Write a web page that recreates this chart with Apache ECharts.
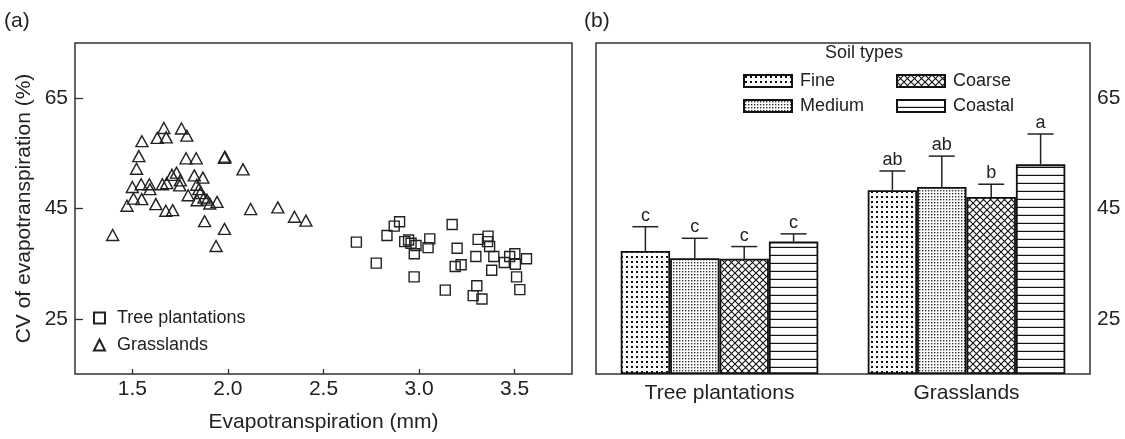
<!DOCTYPE html>
<html>
<head>
<meta charset="utf-8">
<script src="https://cdn.jsdelivr.net/npm/echarts@6/dist/echarts.min.js"></script>
<style>
  html, body { margin: 0; padding: 0; background: #fff; }
  #chart { width: 1125px; height: 439px; }
</style>
</head>
<body>
<div id="chart"></div>
<script>
// ---- data ----
// panel (a): [evapotranspiration mm, CV %]
const treePlantations = [
  [2.672, 38.9], [2.776, 35.1], [2.832, 40.1], [2.870, 41.8], [2.898, 42.6],
  [2.925, 39.0], [2.945, 39.3], [2.958, 38.7], [2.975, 36.8], [2.984, 38.3],
  [2.974, 32.6], [3.047, 37.9], [3.056, 39.5], [3.137, 30.2], [3.173, 42.1],
  [3.199, 37.8], [3.189, 34.5], [3.220, 34.8], [3.297, 36.3], [3.302, 31.0],
  [3.283, 29.2], [3.329, 28.6], [3.309, 39.4], [3.361, 40.0], [3.358, 39.0],
  [3.369, 38.1], [3.380, 33.8], [3.391, 36.3], [3.446, 35.2], [3.474, 36.3],
  [3.501, 36.8], [3.504, 34.9], [3.510, 32.6], [3.527, 30.3], [3.562, 35.9]
];
const grasslands = [
  [1.397, 40.2], [1.472, 45.5], [1.500, 48.9], [1.506, 46.8], [1.522, 52.2],
  [1.534, 54.5], [1.549, 46.7], [1.550, 57.2], [1.546, 49.4], [1.589, 49.4],
  [1.592, 48.5], [1.623, 45.8], [1.630, 57.8], [1.657, 49.4], [1.665, 59.6],
  [1.677, 57.9], [1.680, 49.6], [1.675, 44.6], [1.711, 44.7], [1.707, 51.1],
  [1.731, 51.5], [1.748, 49.2], [1.751, 50.1], [1.757, 59.5], [1.785, 58.2],
  [1.781, 54.1], [1.834, 54.1], [1.824, 51.0], [1.792, 47.4], [1.837, 49.3],
  [1.839, 46.5], [1.848, 48.5], [1.869, 50.6], [1.855, 47.8], [1.875, 47.0],
  [1.890, 46.6], [1.905, 45.9], [1.943, 46.2], [1.878, 42.7], [1.938, 38.2],
  [1.982, 54.2], [1.984, 54.4], [1.982, 41.3], [2.079, 52.1], [2.119, 44.9],
  [2.261, 45.2], [2.348, 43.5], [2.408, 42.8]
];
const xTicks = [1.5, 2.0, 2.5, 3.0, 3.5];
const yTicks = [25, 45, 65];

// panel (b): mean CV and top of error bar, per soil type, [Tree plantations, Grasslands]
const landUse = ['Tree plantations', 'Grasslands'];
const soilTypes = ['Fine', 'Medium', 'Coarse', 'Coastal'];
const fineMean = [37.3, 48.3];
const mediumMean = [36.0, 48.9];
const coarseMean = [35.9, 47.1];
const coastalMean = [39.0, 53.0];
const fineUpper = [41.7, 51.8];
const mediumUpper = [39.6, 54.5];
const coarseUpper = [38.1, 49.4];
const coastalUpper = [40.4, 58.5];
const fineLetters = ['c', 'ab'];
const mediumLetters = ['c', 'ab'];
const coarseLetters = ['c', 'b'];
const coastalLetters = ['c', 'a'];

const FONT = "'Liberation Sans', Arial, Helvetica, sans-serif";
const INK = '#222';

// fill patterns for the soil types
function tile(w, h, draw) {
  const c = document.createElement('canvas');
  c.width = w; c.height = h;
  const ctx = c.getContext('2d');
  ctx.fillStyle = '#fff';
  ctx.fillRect(0, 0, w, h);
  draw(ctx);
  return { image: c, repeat: 'repeat' };
}
const patterns = {
  Fine: tile(5, 5, ctx => { ctx.fillStyle = '#111'; ctx.fillRect(1, 1, 2, 2); }),
  Medium: tile(3, 3, ctx => { ctx.fillStyle = '#333'; ctx.fillRect(1, 1, 1.4, 1.4); }),
  Coarse: tile(7, 7, ctx => {
    ctx.strokeStyle = '#111'; ctx.lineWidth = 1.1;
    ctx.beginPath();
    ctx.moveTo(-1, -1); ctx.lineTo(8, 8);
    ctx.moveTo(8, -1); ctx.lineTo(-1, 8);
    ctx.stroke();
  }),
  Coastal: tile(8, 8, ctx => { ctx.fillStyle = '#111'; ctx.fillRect(0, 6.8, 8, 1.4); })
};

const means = [fineMean, mediumMean, coarseMean, coastalMean];
const uppers = [fineUpper, mediumUpper, coarseUpper, coastalUpper];
const letters = [fineLetters, mediumLetters, coarseLetters, coastalLetters];

const errData = [];
const errLetters = [];
soilTypes.forEach((s, k) => {
  landUse.forEach((c, j) => {
    errData.push([j, k, means[k][j], uppers[k][j]]);
    errLetters.push(letters[k][j]);
  });
});

const chart = echarts.init(document.getElementById('chart'), null, { renderer: 'canvas' });

const axisText = { color: INK, fontSize: 21, fontFamily: FONT };

const option = {
  animation: false,
  backgroundColor: '#fff',
  textStyle: { fontFamily: FONT, color: INK },
  grid: [
    { left: 75, right: 553, top: 43, bottom: 65, show: true, borderColor: '#333', borderWidth: 1.5 },
    { left: 596, right: 35, top: 43, bottom: 65, show: true, borderColor: '#333', borderWidth: 1.5 }
  ],
  graphic: [
    { type: 'text', left: 4, top: 11, style: { text: '(a)', font: '21px ' + FONT, fill: INK } },
    { type: 'text', left: 584, top: 11, style: { text: '(b)', font: '21px ' + FONT, fill: INK } },
    { type: 'text', x: 864, y: 53, style: { text: 'Soil types', font: '18px ' + FONT, fill: INK, align: 'center', verticalAlign: 'middle' } }
  ],
  legend: [
    {
      data: ['Tree plantations', 'Grasslands'],
      orient: 'vertical', left: 88, top: 304, itemGap: 9,
      itemWidth: 11, itemHeight: 11,
      textStyle: { fontSize: 18, color: INK, fontFamily: FONT, padding: [0, 0, 0, 7] },
      selectedMode: false
    },
    {
      data: ['Fine', 'Medium'],
      orient: 'vertical', left: 738, top: 67, itemGap: 7,
      icon: 'rect', itemWidth: 48, itemHeight: 12,
      textStyle: { fontSize: 18, color: INK, fontFamily: FONT, padding: [0, 0, 0, 3] },
      selectedMode: false
    },
    {
      data: ['Coarse', 'Coastal'],
      orient: 'vertical', left: 891, top: 67, itemGap: 7,
      icon: 'rect', itemWidth: 48, itemHeight: 12,
      textStyle: { fontSize: 18, color: INK, fontFamily: FONT, padding: [0, 0, 0, 3] },
      selectedMode: false
    }
  ],
  xAxis: [
    {
      type: 'value', gridIndex: 0, min: 1.2, max: 3.8,
      name: 'Evapotranspiration (mm)', nameLocation: 'middle', nameGap: 38,
      nameTextStyle: axisText,
      axisLine: { show: false },
      axisTick: { inside: true, length: 5, customValues: xTicks, lineStyle: { color: '#333', width: 1.3 } },
      axisLabel: { customValues: xTicks, margin: 5, formatter: v => v.toFixed(1), ...axisText },
      splitLine: { show: false }
    },
    {
      type: 'category', gridIndex: 1, data: landUse,
      axisLine: { show: false }, axisTick: { show: false },
      axisLabel: { margin: 9, ...axisText },
      splitLine: { show: false }
    }
  ],
  yAxis: [
    {
      type: 'value', gridIndex: 0, min: 15, max: 75,
      name: 'CV of evapotranspiration (%)', nameLocation: 'middle', nameGap: 40,
      nameTextStyle: axisText,
      axisLine: { show: false },
      axisTick: { inside: true, length: 8, customValues: yTicks, lineStyle: { color: '#333', width: 1.3 } },
      axisLabel: { customValues: yTicks, margin: 7, ...axisText },
      splitLine: { show: false }
    },
    {
      type: 'value', gridIndex: 1, position: 'right', min: 15, max: 75, startValue: 15,
      axisLine: { show: false },
      axisTick: { inside: true, length: 9, customValues: yTicks, lineStyle: { color: '#333', width: 1.3 } },
      axisLabel: { customValues: yTicks, margin: 7, ...axisText },
      splitLine: { show: false }
    }
  ],
  series: [
    {
      name: 'Tree plantations', type: 'scatter', xAxisIndex: 0, yAxisIndex: 0,
      data: treePlantations, symbol: 'rect', symbolSize: 10,
      itemStyle: { color: 'rgba(255,255,255,0)', borderColor: INK, borderWidth: 1.4, opacity: 1 }
    },
    {
      name: 'Grasslands', type: 'scatter', xAxisIndex: 0, yAxisIndex: 0,
      data: grasslands, symbol: 'triangle', symbolSize: [12, 11],
      itemStyle: { color: 'rgba(255,255,255,0)', borderColor: INK, borderWidth: 1.4, opacity: 1 }
    },
    ...soilTypes.map((s, k) => ({
      name: s, type: 'bar', xAxisIndex: 1, yAxisIndex: 1,
      data: means[k], barGap: '0%', barCategoryGap: '20%',
      itemStyle: { color: patterns[s], borderColor: '#111', borderWidth: 1.8 }
    })),
    {
      type: 'custom', xAxisIndex: 1, yAxisIndex: 1, z: 5,
      data: errData,
      encode: { x: 0, y: [2, 3] },
      renderItem: (params, api) => {
        const j = api.value(0), k = api.value(1);
        const top = api.coord([j, api.value(2)]);
        const hi = api.coord([j, api.value(3)]);
        const barW = api.size([1, 0])[0] * 0.8 / 4;
        const cx = top[0] + (k - 1.5) * barW;
        const cap = 13;
        return {
          type: 'group',
          children: [
            { type: 'line', shape: { x1: cx, y1: top[1], x2: cx, y2: hi[1] }, style: { stroke: INK, lineWidth: 1.5 } },
            { type: 'line', shape: { x1: cx - cap, y1: hi[1], x2: cx + cap, y2: hi[1] }, style: { stroke: INK, lineWidth: 1.5 } },
            { type: 'text', style: { text: errLetters[params.dataIndex], x: cx, y: hi[1] - 2, align: 'center', verticalAlign: 'bottom', font: '18px ' + FONT, fill: INK } }
          ]
        };
      }
    }
  ]
};

chart.setOption(option);
</script>
</body>
</html>
